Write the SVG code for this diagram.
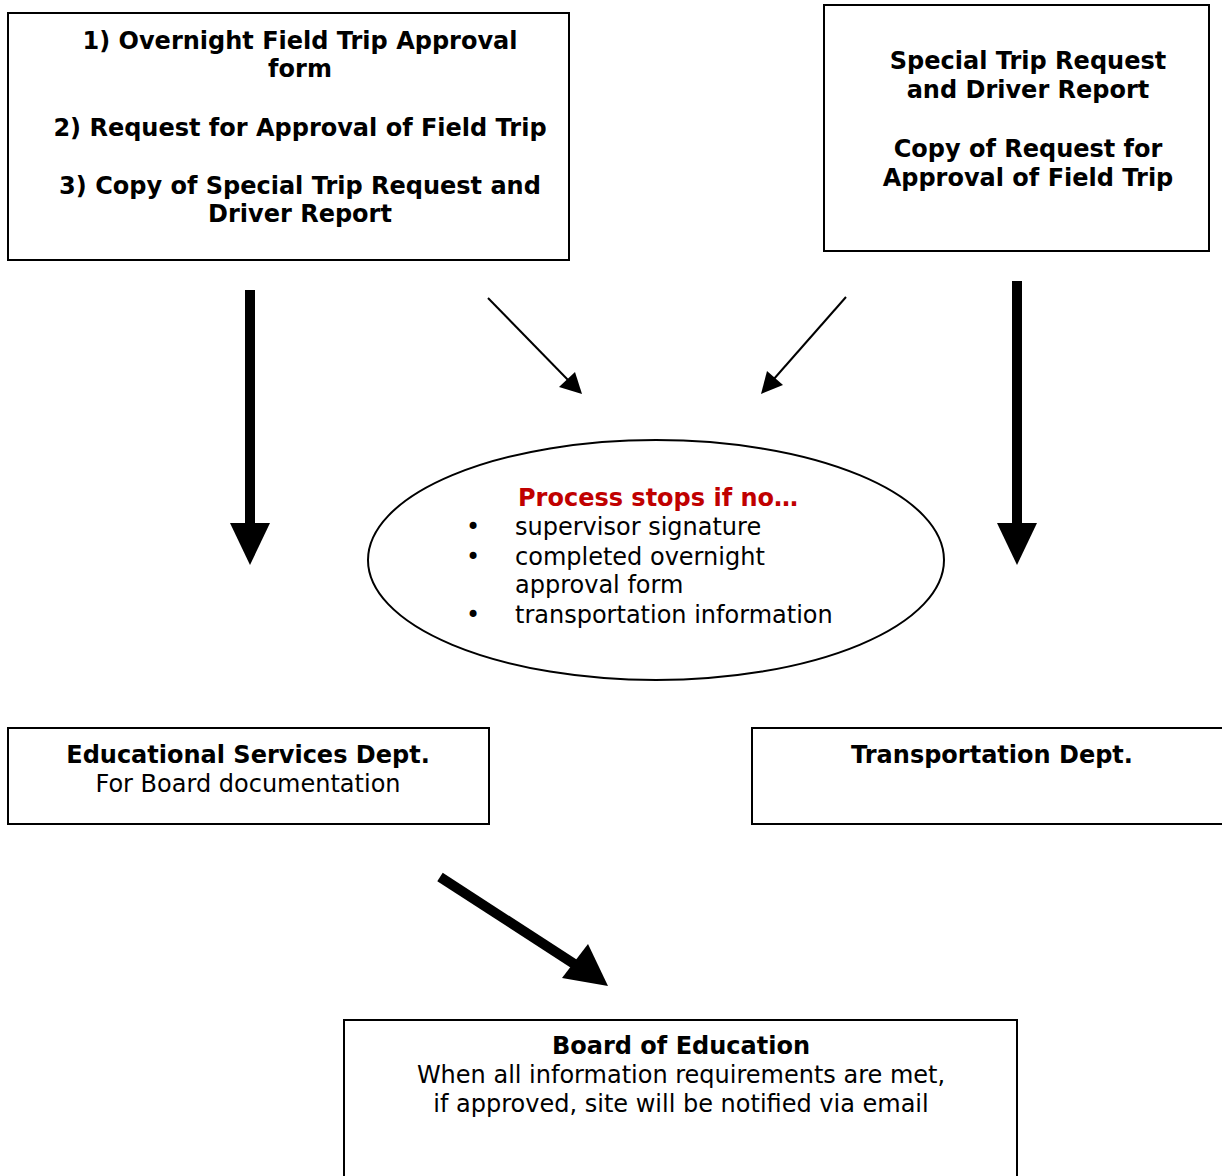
<svg xmlns="http://www.w3.org/2000/svg" width="1222" height="1176" viewBox="0 0 1222 1176">
<style>
.box{fill:#fff;stroke:#000;stroke-width:2}
.t{font-family:"DejaVu Sans","Verdana",sans-serif;font-size:24px;fill:#000}
.b{font-weight:bold}
.c{text-anchor:middle}
.red{fill:#C00000}
.thin{stroke:#000;stroke-width:2;fill:none}
.blk{fill:#000}
</style>
<rect width="1222" height="1176" fill="#fff"/>
<g id="connectors">
  <rect class="blk" x="245" y="290" width="10" height="236"/>
  <polygon class="blk" points="230,523 270,523 250,565"/>
  <rect class="blk" x="1012" y="281" width="10" height="245"/>
  <polygon class="blk" points="997,523 1037,523 1017,565"/>
  <line class="thin" x1="488" y1="298" x2="569" y2="381"/>
  <polygon class="blk" points="582,394 559,387 575,372"/>
  <line class="thin" x1="846" y1="297" x2="773" y2="380"/>
  <polygon class="blk" points="761,394 767,371 783,385"/>
  <line x1="440" y1="877" x2="582" y2="969" stroke="#000" stroke-width="10"/>
  <polygon class="blk" points="608,986 562,978 588,944"/>
</g>
<g id="node-forms">
  <rect class="box" x="8" y="13" width="561" height="247"/>
  <text class="t b c" x="300" y="49">1) Overnight Field Trip Approval</text>
  <text class="t b c" x="300" y="77">form</text>
  <text class="t b c" x="300" y="136">2) Request for Approval of Field Trip</text>
  <text class="t b c" x="300" y="194">3) Copy of Special Trip Request and</text>
  <text class="t b c" x="300" y="222">Driver Report</text>
</g>
<g id="node-special">
  <rect class="box" x="824" y="5" width="385" height="246"/>
  <text class="t b c" x="1028" y="69">Special Trip Request</text>
  <text class="t b c" x="1028" y="98">and Driver Report</text>
  <text class="t b c" x="1028" y="157">Copy of Request for</text>
  <text class="t b c" x="1028" y="186">Approval of Field Trip</text>
</g>
<g id="node-stops">
  <ellipse class="box" cx="656" cy="560" rx="288" ry="120"/>
  <text class="t b red" x="518" y="506">Process stops if no…</text>
  <text class="t" x="466" y="535">•</text>
  <text class="t" x="515" y="535">supervisor signature</text>
  <text class="t" x="466" y="565">•</text>
  <text class="t" x="515" y="565">completed overnight</text>
  <text class="t" x="515" y="593">approval form</text>
  <text class="t" x="466" y="623">•</text>
  <text class="t" x="515" y="623">transportation information</text>
</g>
<g id="node-edservices">
  <rect class="box" x="8" y="728" width="481" height="96"/>
  <text class="t b c" x="248" y="763">Educational Services Dept.</text>
  <text class="t c" x="248" y="792">For Board documentation</text>
</g>
<g id="node-transport">
  <rect class="box" x="752" y="728" width="480" height="96"/>
  <text class="t b c" x="992" y="763">Transportation Dept.</text>
</g>
<g id="node-board">
  <rect class="box" x="344" y="1020" width="673" height="170"/>
  <text class="t b c" x="681" y="1054">Board of Education</text>
  <text class="t c" x="681" y="1083">When all information requirements are met,</text>
  <text class="t c" x="681" y="1112">if approved, site will be notified via email</text>
</g>
</svg>
